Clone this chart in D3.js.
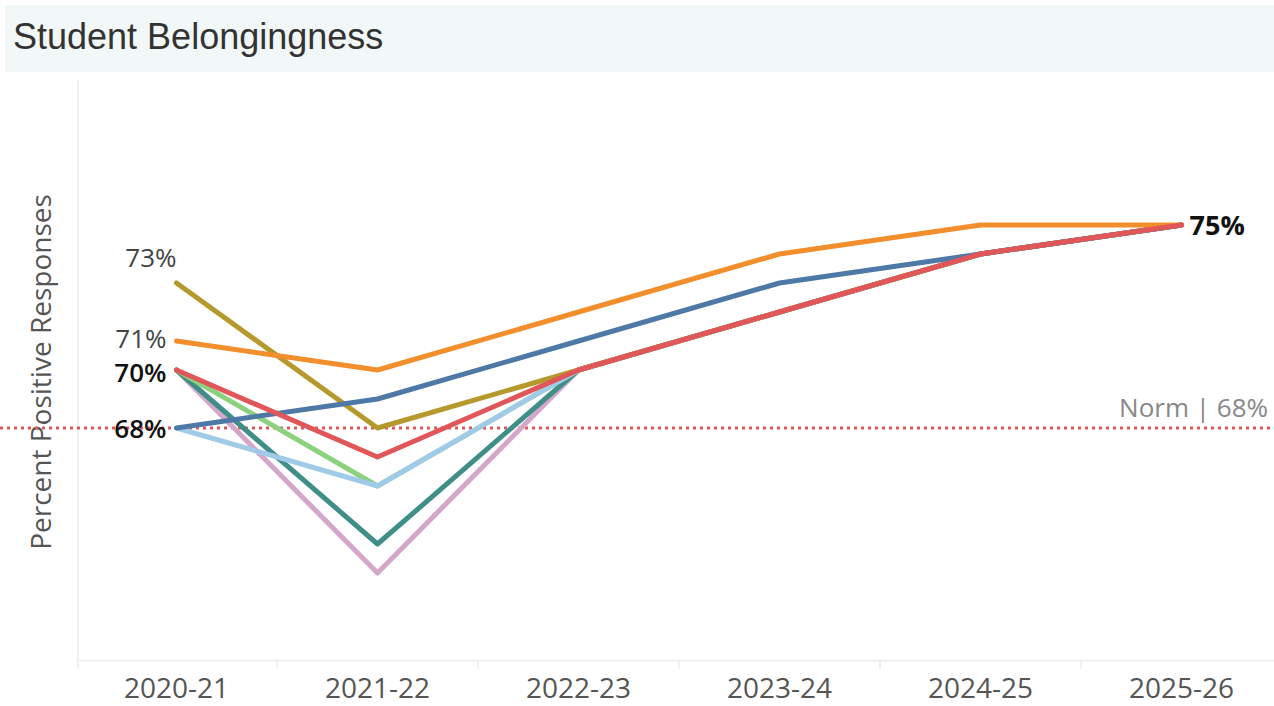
<!DOCTYPE html>
<html>
<head>
<meta charset="utf-8">
<script src="https://cdn.jsdelivr.net/npm/d3@7"></script>
<style>
  body { margin: 0; background: #fff; }
  svg { display: block; }
</style>
</head>
<body>
<svg id="chart" width="1274" height="706"></svg>
<script>
const years = ["2020-21", "2021-22", "2022-23", "2023-24", "2024-25", "2025-26"];

// drawn bottom to top
const seriesNames = ["pink", "teal", "green", "lightblue", "olive", "blue", "orange", "red"];
const seriesColors = ["#D4A6C8", "#3F8F88", "#8CD17D", "#A0CBE8", "#B6992D", "#4E79A7", "#F28E2B", "#E15759"];
const pinkValues      = [70, 63, 70, 72, 74, 75];
const tealValues      = [70, 64, 70, 72, 74, 75];
const greenValues     = [70, 66, 70, 72, 74, 75];
const lightblueValues = [68, 66, 70, 72, 74, 75];
const oliveValues     = [73, 68, 70, 72, 74, 75];
const blueValues      = [68, 69, 71, 73, 74, 75];
const orangeValues    = [71, 70, 72, 74, 75, 75];
const redValues       = [70, 67, 70, 72, 74, 75];
const allValues = [pinkValues, tealValues, greenValues, lightblueValues, oliveValues, blueValues, orangeValues, redValues];

const normValue = 68;
const yDomain = [60, 80];

const svg = d3.select("#chart");
const W = 1274, H = 706;
const margin = { left: 76, right: -8, top: 80, bottom: 46 };

// title bar
svg.append("rect")
  .attr("x", 5).attr("y", 5)
  .attr("width", W - 5).attr("height", 67)
  .attr("fill", "#F2F7F7");
svg.append("text")
  .attr("x", 13).attr("y", 49)
  .attr("font-family", "Liberation Sans, Arial, sans-serif")
  .attr("font-size", 36)
  .attr("fill", "#333")
  .text("Student Belongingness");

const x = d3.scaleBand()
  .domain(years)
  .range([margin.left, W - margin.right]);

const y = d3.scaleLinear()
  .domain(yDomain)
  .range([H - margin.bottom, margin.top]);

const font = "'Open Sans', sans-serif";

// axis frame
svg.append("line")
  .attr("x1", margin.left + 2).attr("x2", margin.left + 2)
  .attr("y1", margin.top).attr("y2", y(yDomain[0]) + 8)
  .attr("stroke", "#ededed").attr("stroke-width", 1.5);

const xAxis = svg.append("g")
  .attr("transform", `translate(0,${y(yDomain[0])})`)
  .call(d3.axisBottom(x).tickSize(0).tickPadding(18));
xAxis.select(".domain").attr("stroke", "#ececec").attr("stroke-width", 1.5);
xAxis.selectAll("text")
  .attr("font-family", font)
  .attr("font-size", 28)
  .attr("fill", "#555");

// band dividers
svg.append("g").selectAll("line")
  .data(years.slice(1))
  .join("line")
  .attr("x1", d => x(d)).attr("x2", d => x(d))
  .attr("y1", y(yDomain[0])).attr("y2", y(yDomain[0]) + 9)
  .attr("stroke", "#ececec").attr("stroke-width", 1.5);

// y title
svg.append("text")
  .attr("transform", `translate(51,${(margin.top + y(yDomain[0])) / 2 + 2}) rotate(-90)`)
  .attr("text-anchor", "middle")
  .attr("font-family", font)
  .attr("font-size", 28)
  .attr("fill", "#555")
  .text("Percent Positive Responses");

// norm line
svg.append("line")
  .attr("x1", 0).attr("x2", W)
  .attr("y1", y(normValue)).attr("y2", y(normValue))
  .attr("stroke", "#E15759")
  .attr("stroke-width", 3)
  .attr("stroke-dasharray", "3,4");
svg.append("text")
  .attr("x", W - 6).attr("y", y(normValue) - 11)
  .attr("text-anchor", "end")
  .attr("font-family", font)
  .attr("font-size", 26)
  .attr("fill", "#888")
  .text(`Norm | ${normValue}%`);

const line = d3.line()
  .x((d, i) => x(years[i]) + x.bandwidth() / 2)
  .y(d => y(d));

svg.append("g").selectAll("path")
  .data(allValues)
  .join("path")
  .attr("d", line)
  .attr("fill", "none")
  .attr("stroke", (d, i) => seriesColors[i])
  .attr("stroke-width", 5)
  .attr("stroke-linejoin", "round")
  .attr("stroke-linecap", "round");

// start labels: one per distinct value, darker where several series share it
const startGroups = d3.rollups(allValues, v => v.length, d => d[0]);
const labelShift = { 73: -16, 71: 7, 70: 12, 68: 10 };
const cx0 = x(years[0]) + x.bandwidth() / 2;
svg.append("g").selectAll("text")
  .data(startGroups)
  .join("text")
  .attr("x", d => d[0] === 73 ? cx0 : cx0 - 10)
  .attr("y", d => y(d[0]) + labelShift[d[0]])
  .attr("text-anchor", "end")
  .attr("font-family", font)
  .attr("font-size", 26)
  .attr("font-weight", d => d[1] > 1 ? 600 : 400)
  .attr("fill", d => d[1] > 1 ? "#111" : "#444")
  .text(d => d[0] + "%");

// end label
const endGroups = d3.rollups(allValues, v => v.length, d => d[d.length - 1]);
const cxN = x(years[years.length - 1]) + x.bandwidth() / 2;
svg.append("g").selectAll("text")
  .data(endGroups)
  .join("text")
  .attr("x", cxN + 8)
  .attr("y", d => y(d[0]) + 10)
  .attr("font-family", font)
  .attr("font-size", 27)
  .attr("font-weight", 700)
  .attr("fill", "#111")
  .text(d => d[0] + "%");
</script>
</body>
</html>
